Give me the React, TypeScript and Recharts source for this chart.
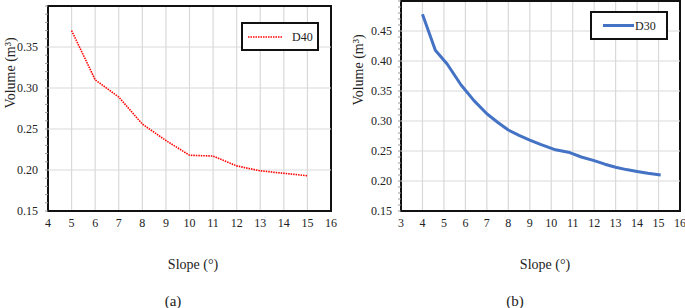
import { CartesianGrid, Legend, Line, LineChart, ReferenceArea, ReferenceLine, XAxis, YAxis } from "recharts";

const leftSlope = [5, 6, 7, 8, 9, 10, 11, 12, 13, 14, 15];
const leftVolume = [0.37, 0.31, 0.289, 0.256, 0.236, 0.218, 0.217, 0.205, 0.199, 0.196, 0.193];

const rightSlope = [4, 4.6, 5.15, 5.8, 6.4, 7, 7.5, 8, 8.5, 9, 9.5, 10.2, 10.8, 11.4, 12, 12.5, 13, 13.5, 14, 14.5, 15.1];
const rightVolume = [
  0.478, 0.418, 0.395, 0.36, 0.334, 0.312, 0.298, 0.285, 0.276, 0.268, 0.261, 0.252, 0.248, 0.24, 0.234, 0.228, 0.223,
  0.219, 0.216, 0.213, 0.21,
];

const leftXTicks = [4, 5, 6, 7, 8, 9, 10, 11, 12, 13, 14, 15, 16];
const rightXTicks = [3, 4, 5, 6, 7, 8, 9, 10, 11, 12, 13, 14, 15, 16];
const leftYLabels = [0.15, 0.2, 0.25, 0.3, 0.35];
const rightYLabels = [0.15, 0.2, 0.25, 0.3, 0.35, 0.4, 0.45];
const leftYGrid = [0.2, 0.25, 0.3, 0.35];
const rightYGrid = [0.2, 0.25, 0.3, 0.35, 0.4, 0.45];

const minorTicks = (lo: number, hi: number) =>
  Array.from({ length: Math.round((hi - lo) * 100) + 1 }, (_, i) => +(lo + i * 0.01).toFixed(2));

const leftData = leftSlope.map((slope, i) => ({ slope, D40: leftVolume[i] }));
const rightData = rightSlope.map((slope, i) => ({ slope, D30: rightVolume[i] }));

const FONT = "'Liberation Serif', 'Times New Roman', serif";
const GRID = "#d9d9d9";

function YTick(props: any) {
  const { x, y, payload, labels, gap } = props;
  const v = payload.value as number;
  const major = labels.some((l: number) => Math.abs(l - v) < 1e-6);
  return (
    <g>
      <line x1={x - 3} x2={x} y1={y} y2={y} stroke="#999" strokeWidth={1} />
      {major && (
        <text x={x - gap} y={y} dy={4} textAnchor="end" fontSize={12} fontFamily={FONT} fill="#222">
          {v.toFixed(2)}
        </text>
      )}
    </g>
  );
}

function LegendBox({ color, name, dashed, thick }: { color: string; name: string; dashed?: boolean; thick?: boolean }) {
  return (
    <div
      style={{
        width: 78,
        height: 29,
        boxSizing: "border-box",
        border: "2px solid #111",
        background: "#fff",
        position: "relative",
      }}
    >
      <svg width={78} height={29} style={{ position: "absolute", left: -2, top: -2 }}>
        {thick ? (
          <line x1={13} x2={44} y1={14.5} y2={14.5} stroke={color} strokeWidth={3} />
        ) : (
          <line x1={7} x2={42} y1={15} y2={15} stroke={color} strokeWidth={1.6} strokeDasharray={dashed ? "1.5 1" : undefined} />
        )}
        <text x={thick ? 45 : 51} y={19} fontSize={12} fontFamily={FONT} fill="#222">
          {name}
        </text>
      </svg>
    </div>
  );
}

const abs = (left: number, top: number): React.CSSProperties => ({ position: "absolute", left, top });

export default function App() {
  return (
    <div style={{ position: "absolute", left: 0, top: 0, width: 685, height: 308, background: "#fff", fontFamily: FONT, overflow: "hidden" }}>
      <div style={abs(0, 0)}>
        <LineChart width={340} height={240} data={leftData} margin={{ top: 6, right: 9, bottom: 0, left: 0 }}>
          <CartesianGrid horizontal={false} stroke={GRID} strokeWidth={1.2} />
          {leftYGrid.map((v) => (
            <ReferenceLine key={v} y={v} stroke={GRID} strokeWidth={1.2} />
          ))}
          <XAxis
            type="number"
            dataKey="slope"
            domain={[4, 16]}
            ticks={leftXTicks}
            interval={0}
            axisLine={false}
            tickLine={false}
            tickSize={4}
            tickMargin={3}
            height={29}
            tick={{ fontSize: 12, fontFamily: FONT, fill: "#222" }}
          />
          <YAxis
            type="number"
            domain={[0.15, 0.4]}
            ticks={minorTicks(0.15, 0.4)}
            interval={0}
            width={48}
            axisLine={false}
            tickLine={false}
            tickSize={0}
            tickMargin={0}
            tick={(p: any) => <YTick {...p} labels={leftYLabels} gap={10} />}
          />
          <Line dataKey="D40" type="linear" stroke="#ff0000" strokeWidth={1.6} strokeDasharray="1.5 1" dot={false} isAnimationActive={false} />
          <ReferenceArea x1={4} x2={16} y1={0.15} y2={0.4} fill="none" stroke="#111" strokeWidth={2} ifOverflow="visible" />
          <Legend
            layout="horizontal"
            verticalAlign="middle"
            align="center"
            wrapperStyle={{ position: "absolute", left: 241, top: 22, width: 78, height: 29 }}
            content={() => <LegendBox color="#ff0000" name="D40" dashed />}
          />
        </LineChart>
      </div>

      <div style={abs(345, 0)}>
        <LineChart width={340} height={240} data={rightData} margin={{ top: 1, right: 5, bottom: 0, left: 0 }}>
          <CartesianGrid horizontal={false} stroke={GRID} strokeWidth={1.2} />
          {rightYGrid.map((v) => (
            <ReferenceLine key={v} y={v} stroke={GRID} strokeWidth={1.2} />
          ))}
          <XAxis
            type="number"
            dataKey="slope"
            domain={[3, 16]}
            ticks={rightXTicks}
            interval={0}
            axisLine={false}
            tickLine={false}
            tickSize={4}
            tickMargin={3}
            height={29}
            tick={{ fontSize: 12, fontFamily: FONT, fill: "#222" }}
          />
          <YAxis
            type="number"
            domain={[0.15, 0.5]}
            ticks={minorTicks(0.15, 0.5)}
            interval={0}
            width={56}
            axisLine={false}
            tickLine={false}
            tickSize={0}
            tickMargin={0}
            tick={(p: any) => <YTick {...p} labels={rightYLabels} gap={9} />}
          />
          <Line dataKey="D30" type="linear" stroke="#4472c4" strokeWidth={3} strokeLinejoin="round" dot={false} isAnimationActive={false} />
          <ReferenceArea x1={3} x2={16} y1={0.15} y2={0.5} fill="none" stroke="#111" strokeWidth={2} ifOverflow="visible" />
          <Legend
            layout="horizontal"
            verticalAlign="middle"
            align="center"
            wrapperStyle={{ position: "absolute", left: 245, top: 11, width: 78, height: 29 }}
            content={() => <LegendBox color="#4472c4" name="D30" thick />}
          />
        </LineChart>
      </div>

      {/* axis titles and captions */}
      <div style={{ ...abs(11, 73), transform: "translate(-50%, -50%) rotate(-90deg)", whiteSpace: "nowrap", fontSize: 14, color: "#222" }}>
        Volume (m³)
      </div>
      <div style={{ ...abs(359, 70), transform: "translate(-50%, -50%) rotate(-90deg)", whiteSpace: "nowrap", fontSize: 14, color: "#222" }}>
        Volume (m³)
      </div>
      <div style={{ ...abs(193, 265), transform: "translate(-50%, -50%)", whiteSpace: "nowrap", fontSize: 14, color: "#222" }}>Slope (°)</div>
      <div style={{ ...abs(545, 265), transform: "translate(-50%, -50%)", whiteSpace: "nowrap", fontSize: 14, color: "#222" }}>Slope (°)</div>
      <div style={{ ...abs(173, 301), transform: "translate(-50%, -50%)", whiteSpace: "nowrap", fontSize: 15, color: "#222" }}>(a)</div>
      <div style={{ ...abs(515, 301), transform: "translate(-50%, -50%)", whiteSpace: "nowrap", fontSize: 15, color: "#222" }}>(b)</div>
    </div>
  );
}
